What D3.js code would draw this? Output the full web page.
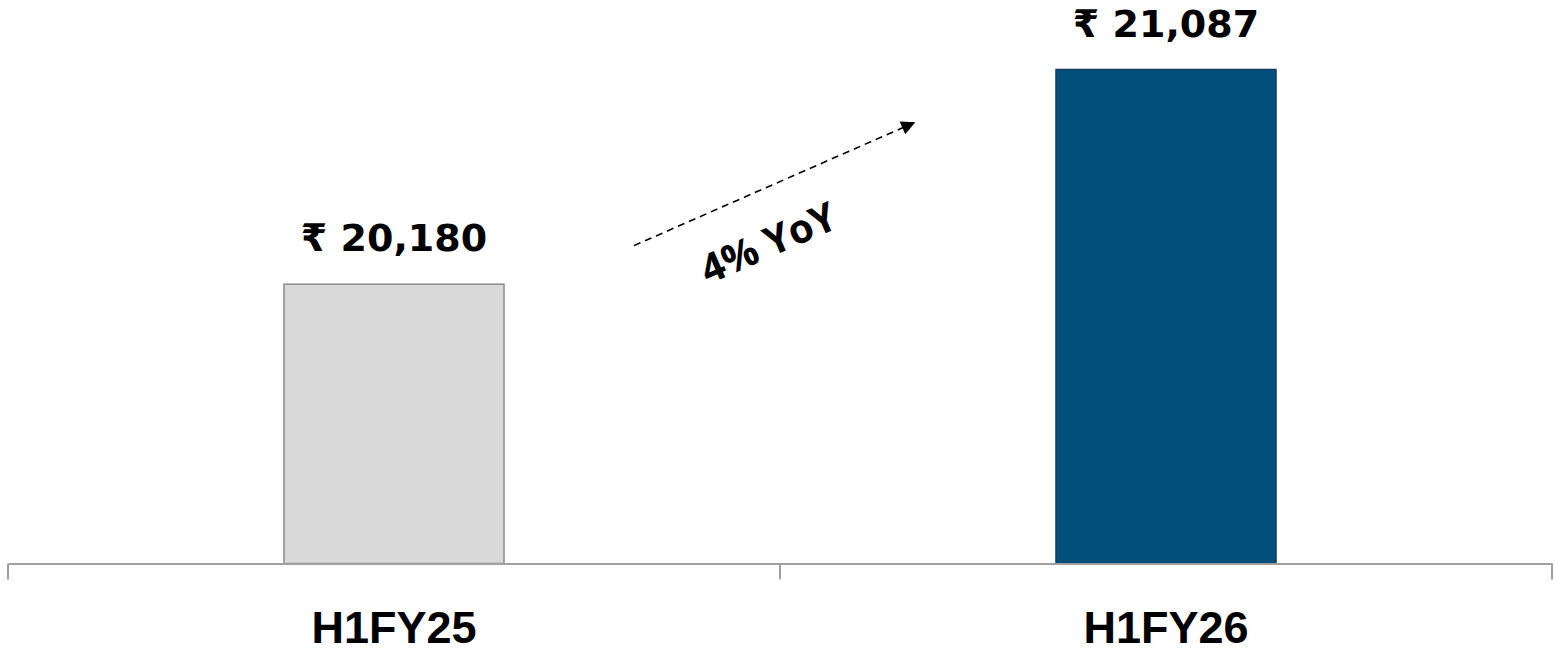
<!DOCTYPE html>
<html><head><meta charset="utf-8">
<script src="https://cdn.jsdelivr.net/npm/d3@7"></script>
<style>body{margin:0;background:#fff}svg{display:block}</style>
</head><body>
<svg id="c" width="1555" height="653"></svg>
<script>
const categories = ["H1FY25", "H1FY26"];
const values = [20180, 21087];
const valueLabels = ["₹ 20,180", "₹ 21,087"];
const growthLabel = "4% YoY";
const fills = ["#d9d9d9", "#03507d"];
const strokes = ["#8a8a8a", "#163a5c"];

const svg = d3.select("#c");
const base = 563.5;
const x = d3.scaleBand().domain(categories).range([8, 1552]).padding(0);
const y = d3.scaleLinear().domain([19000, 21400]).range([base, base - 2400 * 0.2367]);
const barW = x.bandwidth() * 0.285;
const font = "'Open Sans','Noto Sans','DejaVu Sans',sans-serif";
const valFont = "'DejaVu Sans','Noto Sans',sans-serif";
const catFont = "'Liberation Sans',Arial,sans-serif";

// bars
svg.selectAll("rect.bar").data(values).enter().append("rect")
  .attr("x", (d, i) => x(categories[i]) + x.bandwidth() / 2 - barW / 2)
  .attr("y", d => y(d))
  .attr("width", barW)
  .attr("height", d => base - y(d))
  .attr("fill", (d, i) => fills[i])
  .attr("stroke", (d, i) => strokes[i])
  .attr("stroke-width", 1.5);

// axis
const ax = svg.append("g").attr("transform", `translate(0,${base})`)
  .call(d3.axisBottom(x).tickSize(0).tickFormat(""));
ax.select(".domain").attr("stroke", "#a0a0a0").attr("stroke-width", 2);
const edges = [x.range()[0], ...categories.map(c => x(c) + x.bandwidth())];
ax.selectAll("line.edge").data(edges).enter().append("line")
  .attr("x1", d => d).attr("x2", d => d).attr("y1", 0).attr("y2", 16)
  .attr("stroke", "#a0a0a0").attr("stroke-width", 2);

// category labels
svg.selectAll("text.cat").data(categories).enter().append("text")
  .attr("x", d => x(d) + x.bandwidth() / 2)
  .attr("y", 643)
  .attr("text-anchor", "middle")
  .attr("font-family", catFont).attr("font-weight", "bold")
  .attr("font-size", 45).attr("fill", "#000")
  .text(d => d);

// value labels
svg.selectAll("text.val").data(values).enter().append("text")
  .attr("x", (d, i) => x(categories[i]) + x.bandwidth() / 2)
  .attr("y", d => y(d) - 33)
  .attr("text-anchor", "middle")
  .attr("font-family", valFont).attr("font-weight", "bold")
  .attr("font-size", 38).attr("fill", "#000")
  .text((d, i) => valueLabels[i]);

// growth arrow
const defs = svg.append("defs");
defs.append("marker").attr("id", "ah").attr("viewBox", "0 0 10 10")
  .attr("refX", 9).attr("refY", 5).attr("markerWidth", 16).attr("markerHeight", 14)
  .attr("markerUnits", "userSpaceOnUse").attr("orient", "auto")
  .append("path").attr("d", "M0,0L10,5L0,10Z").attr("fill", "#000");
const mid = (x(categories[0]) + x(categories[1]) + x.bandwidth()) / 2;
const a0 = [mid - 146, y(20343)], a1 = [mid + 134, y(20862)];
svg.append("line")
  .attr("x1", a0[0]).attr("y1", a0[1]).attr("x2", a1[0]).attr("y2", a1[1])
  .attr("stroke", "#000").attr("stroke-width", 1.6).attr("stroke-dasharray", "7,5")
  .attr("marker-end", "url(#ah)");
const ang = Math.atan2(a1[1] - a0[1], a1[0] - a0[0]) * 180 / Math.PI;
svg.append("text")
  .attr("transform", `translate(${mid - 6},${y(20300)}) rotate(${ang})`)
  .attr("text-anchor", "middle")
  .attr("font-family", font).attr("font-weight", "bold")
  .attr("font-size", 40).attr("fill", "#000")
  .text(growthLabel);
</script>
</body></html>
